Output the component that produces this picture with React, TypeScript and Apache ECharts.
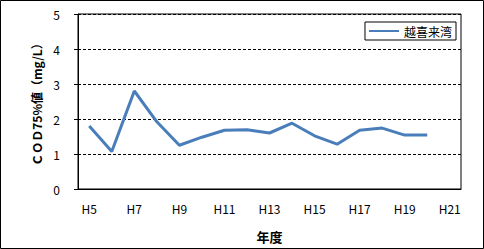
import React, { useEffect, useRef } from "react";
import * as echarts from "echarts";

const categories = ["H5","H6","H7","H8","H9","H10","H11","H12","H13","H14","H15","H16","H17","H18","H19","H20","H21"];
const seriesName = "越喜来湾";
const values = [1.8, 1.07, 2.8, 1.92, 1.25, 1.48, 1.68, 1.69, 1.6, 1.88, 1.52, 1.28, 1.68, 1.74, 1.54, 1.54];
const yTitle = "ＣＯＤ75%値（mg/L）";
const xTitle = "年度";

export default function App() {
  const ref = useRef<HTMLDivElement>(null);
  useEffect(() => {
    const chart = echarts.init(ref.current!, undefined, { renderer: "svg" });
    const font = "'Noto Sans CJK JP', 'DejaVu Sans', sans-serif";
    chart.setOption({
      animation: false,
      backgroundColor: "#fff",
      textStyle: { fontFamily: font },
      grid: {
        left: 78, right: 23, top: 14, bottom: 60,
        show: true, borderColor: "#000", borderWidth: 1,
      },
      legend: {
        right: 28, top: 22,
        borderColor: "#000", borderWidth: 1, borderRadius: 0,
        padding: [3, 4, 3, 4],
        itemWidth: 30, itemHeight: 10,
        textStyle: { fontSize: 12, color: "#000", fontFamily: font },
        data: [{ name: seriesName, icon: "path://M0,4 L30,4 L30,6 L0,6 Z" }],
      },
      xAxis: {
        type: "category",
        data: categories,
        boundaryGap: true,
        name: xTitle,
        nameLocation: "middle",
        nameGap: 41,
        nameTextStyle: { fontSize: 13, fontWeight: "bold", color: "#000", fontFamily: font },
        axisLine: { lineStyle: { color: "#000", width: 1 } },
        axisTick: { interval: 0, length: 4, lineStyle: { color: "#000" } },
        axisLabel: { interval: 1, fontSize: 12, color: "#000", margin: 13, fontFamily: font },
        splitLine: { show: false },
      },
      yAxis: {
        type: "value",
        min: 0, max: 5, interval: 1,
        name: yTitle,
        nameLocation: "middle",
        nameRotate: 90,
        nameGap: 35,
        nameTextStyle: { fontSize: 12, fontWeight: "bold", color: "#000", fontFamily: font },
        axisLine: { show: true, lineStyle: { color: "#000", width: 1 } },
        axisTick: { show: true, length: 4, lineStyle: { color: "#000" } },
        axisLabel: { fontSize: 12, color: "#000", margin: 18, fontFamily: font },
        splitLine: { show: true, lineStyle: { color: "#000", type: [3, 2], width: 1 } },
      },
      series: [
        {
          name: seriesName,
          type: "line",
          data: values,
          showSymbol: false,
          symbol: "none",
          lineStyle: { color: "#4a7ebb", width: 3 },
          itemStyle: { color: "#4a7ebb" },
        },
      ],
      graphic: [
        {
          type: "rect",
          shape: { x: 0.5, y: 0.5, width: 483, height: 248 },
          style: { fill: "none", stroke: "#000", lineWidth: 1 },
          z: 100,
        },
      ],
    });
    return () => chart.dispose();
  }, []);
  return (
    <div
      ref={ref}
      style={{ position: "absolute", left: 0, top: 0, width: 484, height: 249 }}
    />
  );
}
